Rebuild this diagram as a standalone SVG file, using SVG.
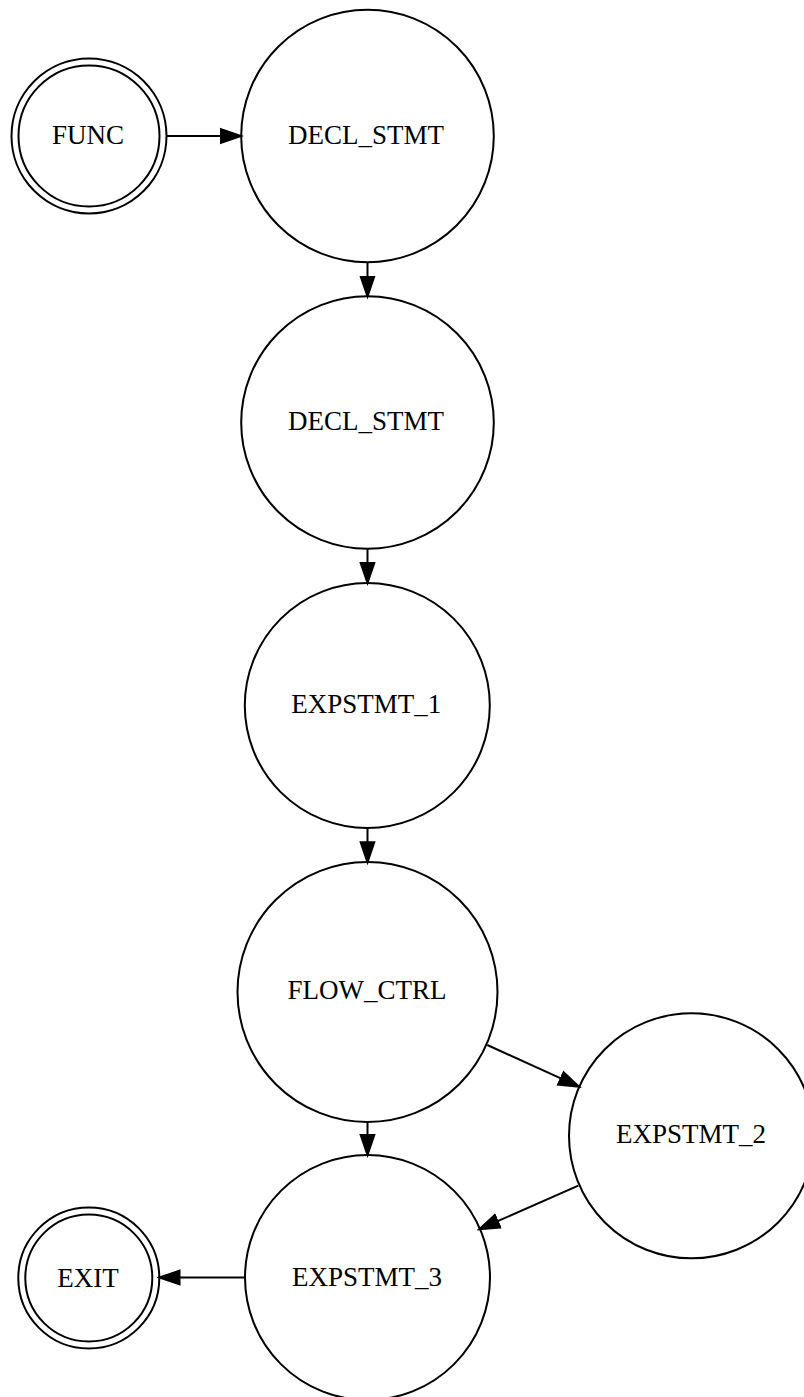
<svg xmlns="http://www.w3.org/2000/svg" width="804" height="1397" viewBox="0 0 804 1397">
<style>
.n{fill:none;stroke:#000;stroke-width:2}
.e{fill:none;stroke:#000;stroke-width:2}
.t{font-family:"Liberation Serif","Times New Roman",serif;font-size:27px;text-anchor:middle;fill:#000}
</style>
<defs>
<marker id="ah" markerUnits="userSpaceOnUse" markerWidth="24" markerHeight="18" viewBox="-1 -9 24 18" refX="0" refY="0" orient="auto">
<path d="M0,-6.8L20,0L0,6.8z" fill="#000" stroke="#000" stroke-width="2"/>
</marker>
</defs>
<rect width="804" height="1397" fill="#fff"/>
<g id="connectors">
<line class="e" x1="166.5" y1="136" x2="221" y2="136" marker-end="url(#ah)"/>
<line class="e" x1="367.5" y1="262.5" x2="367.5" y2="276.5" marker-end="url(#ah)"/>
<line class="e" x1="367.5" y1="548.8" x2="367.5" y2="563" marker-end="url(#ah)"/>
<line class="e" x1="367.5" y1="828" x2="367.5" y2="842.3" marker-end="url(#ah)"/>
<line class="e" x1="367.5" y1="1122" x2="367.5" y2="1135" marker-end="url(#ah)"/>
<line class="e" x1="487.3" y1="1045" x2="560.8" y2="1078.4" marker-end="url(#ah)"/>
<line class="e" x1="578.3" y1="1185.7" x2="497.6" y2="1221.2" marker-end="url(#ah)"/>
<line class="e" x1="245" y1="1277.5" x2="179.5" y2="1277.5" marker-end="url(#ah)"/>
</g>
<g id="FUNC">
<circle class="n" cx="89" cy="136" r="77.5"/>
<circle class="n" cx="89" cy="136" r="70.5"/>
<text class="t" x="88" y="144.3">FUNC</text>
</g>
<g id="DECL_STMT_1">
<circle class="n" cx="367.5" cy="136" r="126.3"/>
<text class="t" x="366" y="144.3">DECL_STMT</text>
</g>
<g id="DECL_STMT_2">
<circle class="n" cx="367.5" cy="422.5" r="126.3"/>
<text class="t" x="366" y="430">DECL_STMT</text>
</g>
<g id="EXPSTMT_1">
<circle class="n" cx="367.3" cy="705.5" r="122.5"/>
<text class="t" x="366.3" y="713.3">EXPSTMT_1</text>
</g>
<g id="FLOW_CTRL">
<circle class="n" cx="367.5" cy="992" r="130"/>
<text class="t" x="367" y="999">FLOW_CTRL</text>
</g>
<g id="EXPSTMT_2">
<circle class="n" cx="691.5" cy="1135.8" r="122.5"/>
<text class="t" x="691" y="1143.3">EXPSTMT_2</text>
</g>
<g id="EXPSTMT_3">
<circle class="n" cx="367.5" cy="1277.5" r="122.5"/>
<text class="t" x="367" y="1285.7">EXPSTMT_3</text>
</g>
<g id="EXIT">
<circle class="n" cx="88.8" cy="1278" r="70.5"/>
<circle class="n" cx="88.8" cy="1278" r="63.5"/>
<text class="t" x="88" y="1286.5">EXIT</text>
</g>
</svg>
